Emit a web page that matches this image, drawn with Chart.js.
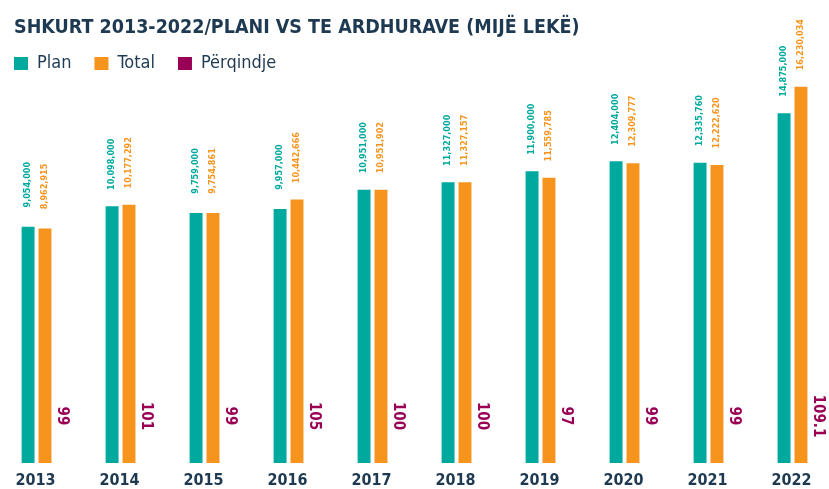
<!DOCTYPE html>
<html>
<head>
<meta charset="utf-8">
<script src="https://cdn.jsdelivr.net/npm/chart.js@4"></script>
<style>
    html, body { margin: 0; padding: 0; background: #fff; }
    #barWrapper { width: 829px; height: 489px; }
</style>
</head>
<body>
<div id="barWrapper"><canvas id="bar"></canvas></div>
<script>
// 資料
const years = ['2013', '2014', '2015', '2016', '2017', '2018', '2019', '2020', '2021', '2022'];
const planValues = [9054000, 10098000, 9759000, 9957000, 10951000, 11327000, 11900000, 12404000, 12335760, 14875000];
const totalValues = [8962915, 10177292, 9754861, 10442666, 10951902, 11327157, 11559785, 12309777, 12222620, 16230034];
const percentValues = [99, 101, 99, 105, 100, 100, 97, 99, 99, 109.1];

// 軸的範圍 (從圖上量出來的)
const yMin = -3058400;
const yMax = 16604000;

const FONT = "'DejaVu Sans Condensed', 'Roboto', sans-serif";
const NAVY = '#1e3a52';
const TEAL = '#00a99d';
const ORANGE = '#f7941d';
const PURPLE = '#990055';

// 柱上的數字
const valueLabels = {
    id: 'valueLabels',
    afterDatasetsDraw(chart) {
        const ctx = chart.ctx;
        chart.data.datasets.forEach((ds, i) => {
            const meta = chart.getDatasetMeta(i);
            meta.data.forEach((bar, j) => {
                ctx.save();
                ctx.textAlign = 'center';
                ctx.textBaseline = 'middle';
                ctx.fillStyle = ds.backgroundColor;
                if (i < 2) {
                    ctx.translate(bar.x, bar.y - 42);
                    ctx.rotate(-Math.PI / 2);
                    ctx.font = 'bold 9px ' + FONT;
                    ctx.fillText(ds.data[j].toLocaleString('en-US'), 0, 0);
                } else {
                    ctx.translate(bar.x, bar.base - 47);
                    ctx.rotate(Math.PI / 2);
                    ctx.font = 'bold 15px ' + FONT;
                    ctx.fillText(String(ds.data[j]), 0, 0);
                }
                ctx.restore();
            });
        });
    }
};

// 圖例往左上移
const legendShift = {
    id: 'legendShift',
    afterLayout(chart) {
        chart.legend.left -= 23;
        chart.legend.top -= 8;
    }
};

new Chart(document.getElementById('bar'), {
    type: 'bar',
    data: {
        labels: years,
        datasets: [
            { label: 'Plan', data: planValues, backgroundColor: TEAL, base: yMin, yAxisID: 'y' },
            { label: 'Total', data: totalValues, backgroundColor: ORANGE, base: yMin, yAxisID: 'y' },
            { label: 'Përqindje', data: percentValues, backgroundColor: PURPLE, yAxisID: 'yp' }
        ]
    },
    options: {
        responsive: true,
        maintainAspectRatio: false,
        animation: false,
        layout: {
            padding: { left: 14, right: 24, top: 0, bottom: 0 }
        },
        datasets: {
            bar: {
                barPercentage: 0.765,
                categoryPercentage: 0.604,
                borderWidth: 0,
                clip: false
            }
        },
        plugins: {
            title: {
                display: true,
                text: 'SHKURT 2013-2022/PLANI VS TE ARDHURAVE (MIJË LEKË)',
                align: 'start',
                color: NAVY,
                font: { family: FONT, size: 19.5, weight: 'bold' },
                padding: { top: 16, bottom: 0 }
            },
            legend: {
                align: 'start',
                maxHeight: 40,
                labels: {
                    color: NAVY,
                    font: { family: FONT, size: 18 },
                    boxWidth: 14,
                    boxHeight: 13,
                    padding: 23
                }
            },
            tooltip: { enabled: false }
        },
        scales: {
            x: {
                offset: false,
                grid: { display: false, drawTicks: false },
                border: { display: false },
                ticks: {
                    color: NAVY,
                    font: { family: FONT, size: 16, weight: 'bold' },
                    padding: 8,
                    labelOffset: -9.5,
                    maxRotation: 0,
                    autoSkip: false
                },
                afterFit(s) { s.height = 26; }
            },
            y: {
                min: yMin,
                max: yMax,
                ticks: { display: false },
                grid: { display: false },
                border: { display: false },
                afterFit(s) { s.width = 31; }
            },
            yp: {
                display: false,
                min: 0,
                max: 1e9
            }
        }
    },
    plugins: [valueLabels, legendShift]
});
</script>
</body>
</html>
